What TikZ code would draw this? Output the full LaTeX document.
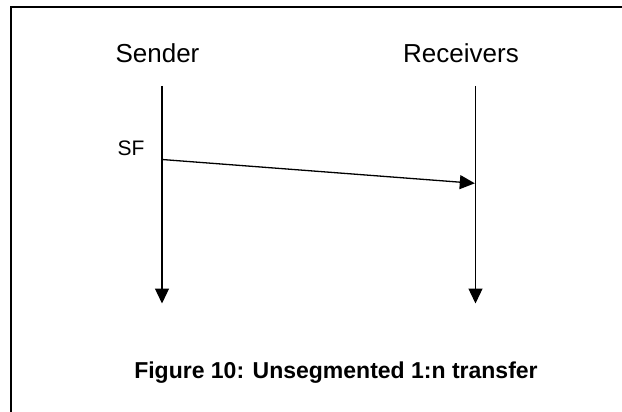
\documentclass[tikz,border=0pt]{standalone}
\usepackage{fontspec}
\setmainfont{Liberation Sans}
\usetikzlibrary{arrows.meta}
\begin{document}
\begin{tikzpicture}[x=1pt,y=-1pt,
    lifeline/.style={line width=1.3pt, -{Triangle[width=14pt,length=15pt]}},
    msgarrow/.style={line width=1.3pt, -{Triangle[width=14pt,length=15pt]}},
    party/.style={font=\fontsize{26}{30}\selectfont, anchor=base}]
  \useasboundingbox (0,0) rectangle (622,412);
  \draw[line width=2pt] (11,412) -- (11,7.5) -- (622,7.5);
  % parties
  \node[party] (sender) at (157.5,63) {Sender};
  \node[party] (receivers) at (461,63) {Receivers};
  \coordinate (senderTop) at (162,86);
  \coordinate (senderEnd) at (162,303.5);
  \coordinate (receiversTop) at (475.5,86);
  \coordinate (receiversEnd) at (475.5,303.5);
  \draw[lifeline] (senderTop) -- (senderEnd);
  \draw[lifeline] (receiversTop) -- (receiversEnd);
  % single frame
  \node[font=\fontsize{21}{25}\selectfont, anchor=base west] (sf) at (114,155) {SF};
  \coordinate (sfOut) at (162,159.5);
  \coordinate (sfIn) at (474.8,183.3);
  \draw[msgarrow] (sfOut) -- (sfIn);
  \node[font=\bfseries\fontsize{23}{27}\selectfont, anchor=base] (caption) at (336,378) {Figure 10: Unsegmented 1:n transfer};
\end{tikzpicture}
\end{document}
